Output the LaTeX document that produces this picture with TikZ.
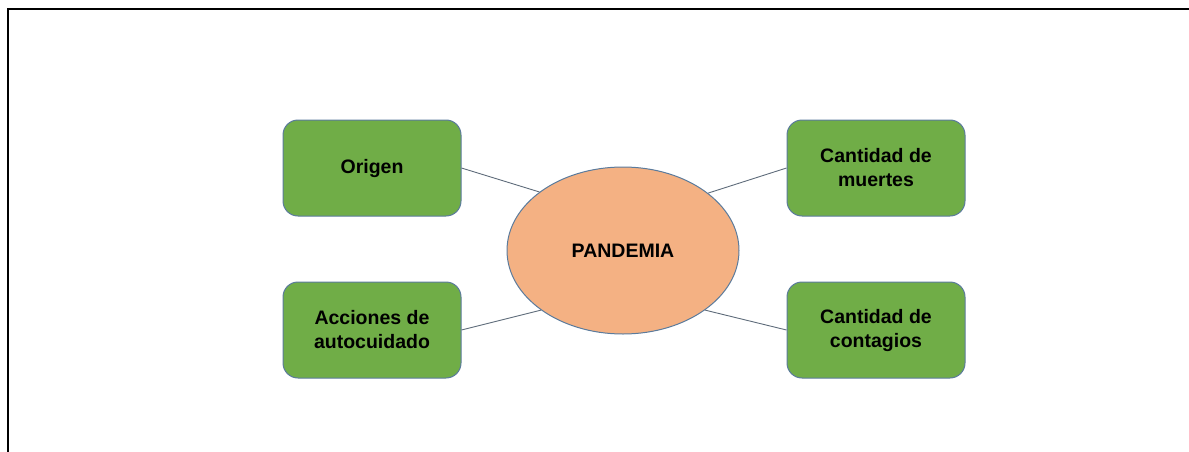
\documentclass[tikz,border=0pt]{standalone}
\usepackage{fontspec}
\setmainfont{Liberation Sans}
\usetikzlibrary{shapes.geometric}
\definecolor{boxgreen}{HTML}{70AD47}
\definecolor{ellorange}{HTML}{F4B183}
\definecolor{edgeblue}{HTML}{5B7B9C}
\definecolor{linkgray}{HTML}{5E6B7A}
\tikzset{
  lbl/.style={font=\fontsize{19.5}{24}\selectfont\bfseries, text=black, align=center},
  gbox/.style={lbl, draw=edgeblue, line width=1pt, fill=boxgreen, rounded corners=15pt,
    minimum width=178pt, minimum height=96pt, inner sep=0pt},
  hub/.style={lbl, ellipse, draw=edgeblue, line width=1pt, fill=ellorange,
    minimum width=232pt, minimum height=167pt, inner sep=0pt},
  link/.style={draw=linkgray, line width=0.9pt},
  frame/.style={draw=black, line width=2pt}
}
\begin{document}
\begin{tikzpicture}[x=1pt,y=-1pt]
\useasboundingbox (0,0) rectangle (1189,452);
\coordinate (fbl) at (8,460);
\coordinate (ftl) at (8,9);
\coordinate (ftr) at (1195,9);
\draw[frame] (fbl) -- (ftl) -- (ftr);
\node[hub] (pan) at (623,250.5) {PANDEMIA};
\node[gbox] (ori) at (372,168) {Origen};
\node[gbox] (acc) at (372,330) {Acciones de\\autocuidado};
\node[gbox] (mue) at (876,168) {Cantidad de\\muertes};
\node[gbox] (con) at (876,330) {Cantidad de\\contagios};
\draw[link] (ori.east) -- (pan.145);
\draw[link] (acc.east) -- (pan.216);
\draw[link] (mue.west) -- (pan.34.5);
\draw[link] (con.west) -- (pan.-36);
\end{tikzpicture}
\end{document}
